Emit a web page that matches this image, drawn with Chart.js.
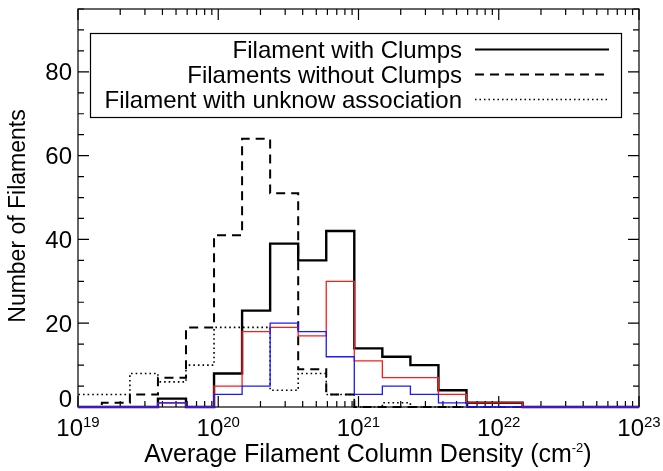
<!DOCTYPE html>
<html>
<head>
<meta charset="utf-8">
<script src="https://cdn.jsdelivr.net/npm/chart.js@4/dist/chart.umd.min.js"></script>
<style>
  html, body { margin: 0; padding: 0; background: #fff; }
  canvas { display: block; }
</style>
</head>
<body>
<canvas id="hist" width="663" height="471"></canvas>
<script>
// Histogram bins: left edges in log10(N / cm^-2), 0.2 dex wide
const binEdgesLog = [18.97, 19.17, 19.37, 19.57, 19.77, 19.97, 20.17, 20.37, 20.57, 20.77,
                     20.97, 21.17, 21.37, 21.57, 21.77, 21.97, 22.17, 22.37, 22.57, 22.77,
                     22.97, 23.17];

// Counts per bin
const withClumps    = [0, 0, 0, 2, 0, 8, 23, 39, 35, 42, 14, 12, 10, 4, 1, 1, 0, 0, 0, 0, 0];
const withoutClumps = [0, 1, 3, 7, 19, 41, 64, 51, 9, 3, 0, 0, 0, 0, 0, 0, 0, 0, 0, 0, 0];
const unknownAssoc  = [3, 3, 8, 6, 10, 19, 19, 4, 8, 3, 0, 1, 0, 0, 0, 0, 0, 0, 0, 0, 0];
const clumpsRed     = [0, 0, 0, 1, 0, 5, 18, 19, 17, 30, 11, 7, 7, 3, 1, 1, 0, 0, 0, 0, 0];
const clumpsBlue    = [0, 0, 0, 1, 0, 3, 5, 20, 18, 12, 3, 5, 3, 1, 0, 0, 0, 0, 0, 0, 0];

// Axis ticks and labels
const xDecades = [19, 20, 21, 22, 23];
const yMajorTicks = [0, 20, 40, 60, 80];
const yMax = 95;

const legendLabels = ['Filament with Clumps', 'Filaments without Clumps', 'Filament with unknow association'];
const xTitle = 'Average Filament Column Density (cm';
const xTitleSup = '-2';
const yTitle = 'Number of Filaments';

const FONT = '"Liberation Sans", Arial, Helvetica, sans-serif';

// Turn bin counts into step points at the bin edges
function steps(counts) {
  return binEdgesLog.map((e, i) => ({ x: Math.pow(10, e), y: i < counts.length ? counts[i] : 0 }));
}

function ds(counts, color, width, dash, order) {
  return {
    data: steps(counts),
    borderColor: color,
    borderWidth: width,
    borderDash: dash,
    borderCapStyle: 'butt',
    borderJoinStyle: 'miter',
    stepped: true,
    pointRadius: 0,
    fill: false,
    order: order,
    clip: { left: 0, right: 0, top: 4, bottom: 4 }
  };
}

const axesPlugin = {
  id: 'idlAxes',
  beforeDatasetsDraw(chart) {
    const ctx = chart.ctx, a = chart.chartArea;
    const xs = chart.scales.x, ys = chart.scales.y;
    ctx.save();
    ctx.strokeStyle = '#000';
    ctx.lineWidth = 1.2;
    ctx.strokeRect(a.left, a.top, a.right - a.left, a.bottom - a.top);
    ctx.beginPath();
    // y ticks, both sides, inward
    for (let v = 0; v <= yMax; v += 5) {
      const y = ys.getPixelForValue(v);
      const len = (v % 20 === 0) ? 11 : 6;
      ctx.moveTo(a.left, y); ctx.lineTo(a.left + len, y);
      ctx.moveTo(a.right, y); ctx.lineTo(a.right - len, y);
    }
    // x ticks (log), top and bottom, inward
    for (let d = xDecades[0]; d <= xDecades[xDecades.length - 1]; d++) {
      for (let m = 1; m <= 9; m++) {
        if (d === xDecades[xDecades.length - 1] && m > 1) break;
        const x = xs.getPixelForValue(m * Math.pow(10, d));
        const len = (m === 1) ? 11 : 6;
        ctx.moveTo(x, a.bottom); ctx.lineTo(x, a.bottom - len);
        ctx.moveTo(x, a.top); ctx.lineTo(x, a.top + len);
      }
    }
    ctx.stroke();
    ctx.restore();
  },
  afterDraw(chart) {
    const ctx = chart.ctx, a = chart.chartArea;
    const xs = chart.scales.x, ys = chart.scales.y;
    ctx.save();
    ctx.fillStyle = '#000';
    // y tick labels
    ctx.font = '24px ' + FONT;
    ctx.textAlign = 'right';
    ctx.textBaseline = 'alphabetic';
    yMajorTicks.forEach(v => {
      const y = ys.getPixelForValue(v);
      const base = v === 0 ? y : y + 8.6;
      ctx.fillText(String(v), a.left - 6, base);
    });
    // x tick labels: 10^n
    ctx.textAlign = 'left';
    xDecades.forEach(d => {
      const x = xs.getPixelForValue(Math.pow(10, d));
      ctx.font = '24px ' + FONT;
      const w1 = ctx.measureText('10').width;
      ctx.font = '15px ' + FONT;
      const w2 = ctx.measureText(String(d)).width;
      const x0 = x - (w1 + w2) / 2;
      ctx.font = '24px ' + FONT;
      ctx.fillText('10', x0, 436);
      ctx.font = '15px ' + FONT;
      ctx.fillText(String(d), x0 + w1, 427);
    });
    // x title with superscript
    ctx.font = '25px ' + FONT;
    const t1 = ctx.measureText(xTitle).width;
    const tp = ctx.measureText(')').width;
    ctx.font = '13px ' + FONT;
    const ts = ctx.measureText(xTitleSup).width;
    const tx0 = 368 - (t1 + ts + tp) / 2;
    ctx.font = '25px ' + FONT;
    ctx.fillText(xTitle, tx0, 462);
    ctx.fillText(')', tx0 + t1 + ts, 462);
    ctx.font = '13px ' + FONT;
    ctx.fillText(xTitleSup, tx0 + t1, 452);
    // y title
    ctx.save();
    ctx.translate(19, 216);
    ctx.rotate(-Math.PI / 2);
    ctx.font = '23px ' + FONT;
    ctx.textAlign = 'center';
    ctx.textBaseline = 'middle';
    ctx.fillText(yTitle, 0, 0);
    ctx.restore();
    // legend
    ctx.lineWidth = 1.2;
    ctx.strokeStyle = '#000';
    ctx.strokeRect(90.5, 33.5, 531, 84);
    ctx.font = '24px ' + FONT;
    ctx.textAlign = 'right';
    ctx.textBaseline = 'alphabetic';
    const rows = [58, 83, 108];
    const styles = [[2.2, []], [2, [9, 6]], [1.4, [1.5, 3]]];
    legendLabels.forEach((lab, i) => {
      ctx.fillText(lab, 462, rows[i]);
      ctx.beginPath();
      ctx.setLineDash(styles[i][1]);
      ctx.lineWidth = styles[i][0];
      ctx.moveTo(475, rows[i] - 8.5);
      ctx.lineTo(609, rows[i] - 8.5);
      ctx.stroke();
    });
    ctx.restore();
  }
};

new Chart(document.getElementById('hist'), {
  type: 'line',
  data: {
    datasets: [
      ds(clumpsBlue, '#1a1aff', 1.3, [], 0),
      ds(clumpsRed, '#ff1a1a', 1.3, [], 1),
      ds(unknownAssoc, '#000', 1.6, [1.6, 3], 2),
      ds(withoutClumps, '#000', 2, [9, 6], 3),
      ds(withClumps, '#000', 2.4, [], 4)
    ]
  },
  options: {
    responsive: false,
    animation: false,
    layout: { padding: { left: 78, right: 24, top: 9, bottom: 64 } },
    plugins: { legend: { display: false }, tooltip: { enabled: false } },
    scales: {
      x: { type: 'logarithmic', min: 1e19, max: 1e23, display: false },
      y: { type: 'linear', min: 0, max: yMax, display: false }
    }
  },
  plugins: [axesPlugin]
});
</script>
</body>
</html>
